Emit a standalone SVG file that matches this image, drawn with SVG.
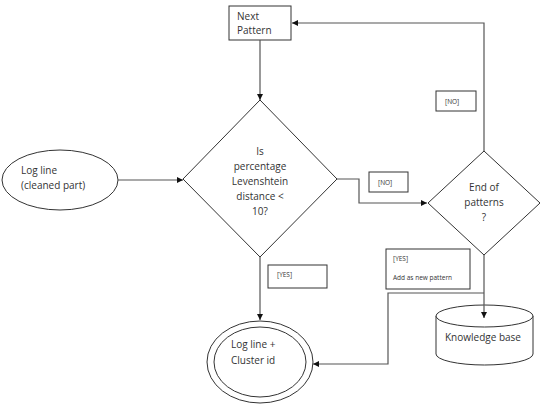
<svg xmlns="http://www.w3.org/2000/svg" width="545" height="416" viewBox="0 0 545 416">
<style>
.shape{fill:#fff;stroke:#333;stroke-width:1}
.conn{fill:none;stroke:#555;stroke-width:1.2}
.t{font-family:"Open Sans","Noto Sans",sans-serif;font-size:10px;fill:#333}
.s{font-family:"Open Sans","Noto Sans",sans-serif;font-size:6.5px;fill:#333}
.lbl{fill:#fff;stroke:#333;stroke-width:1}
</style>
<defs>
<marker id="arr" markerWidth="8" markerHeight="8" refX="6" refY="3" orient="auto" markerUnits="userSpaceOnUse">
<path d="M0,0 L6,3 L0,6 Z" fill="#111"/>
</marker>
</defs>
<rect width="545" height="416" fill="#fff"/>
<g id="next-pattern">
<rect class="shape" x="229" y="6" width="62" height="34"/>
<text class="t" x="237" y="20">Next</text>
<text class="t" x="237" y="34">Pattern</text>
</g>
<g id="log-line">
<ellipse class="shape" cx="60" cy="180" rx="58" ry="30"/>
<text class="t" x="21" y="174">Log line</text>
<text class="t" x="21" y="189">(cleaned part)</text>
</g>
<g id="decision-levenshtein">
<polygon class="shape" points="260,100 337,179 260,257 183,179"/>
<text class="t" text-anchor="middle" x="260" y="155">Is</text>
<text class="t" text-anchor="middle" x="260" y="170">percentage</text>
<text class="t" text-anchor="middle" x="260" y="185">Levenshtein</text>
<text class="t" text-anchor="middle" x="260" y="200">distance &lt;</text>
<text class="t" text-anchor="middle" x="260" y="215">10?</text>
</g>
<g id="label-no-1">
<rect class="lbl" x="369" y="172" width="39" height="20"/>
<text class="s" x="378" y="185">[NO]</text>
</g>
<g id="decision-end">
<polygon class="shape" points="484,151 540,203 484,255 428,203"/>
<text class="t" text-anchor="middle" x="484" y="191">End of</text>
<text class="t" text-anchor="middle" x="484" y="206">patterns</text>
<text class="t" text-anchor="middle" x="484" y="221">?</text>
</g>
<g id="label-no-2">
<rect class="lbl" x="436" y="91" width="40" height="20"/>
<text class="s" x="445" y="104">[NO]</text>
</g>
<g id="label-yes-1">
<rect class="lbl" x="268" y="265" width="59" height="23"/>
<text class="s" x="277" y="277">[YES]</text>
</g>
<g id="label-yes-2">
<rect class="lbl" x="386" y="249" width="84" height="40"/>
<text class="s" x="393" y="261">[YES]</text>
<text class="s" x="393" y="280">Add as new pattern</text>
</g>
<g id="knowledge-base">
<path class="shape" d="M436,316 V354 A48.5,11 0 0 0 533,354 V316"/>
<ellipse class="shape" cx="484.5" cy="316" rx="48.5" ry="11"/>
<text class="t" x="445" y="341">Knowledge base</text>
</g>
<g id="log-line-cluster">
<ellipse class="shape" cx="260" cy="362" rx="53" ry="41"/>
<ellipse class="shape" cx="260" cy="362" rx="46" ry="35"/>
<text class="t" x="231" y="348">Log line +</text>
<text class="t" x="231" y="364">Cluster id</text>
</g>
<g id="connectors">
<path class="conn" d="M260,40 V100" marker-end="url(#arr)"/>
<path class="conn" d="M118,180 H183" marker-end="url(#arr)"/>
<path class="conn" d="M337,179 H359 V203 H427" marker-end="url(#arr)"/>
<path class="conn" d="M484,151 V23 H292" marker-end="url(#arr)"/>
<path class="conn" d="M260,257 V320" marker-end="url(#arr)"/>
<path class="conn" d="M484,255 V318" marker-end="url(#arr)"/>
<path class="conn" d="M484,293 H388 V364 H313" marker-end="url(#arr)"/>
</g>
</svg>
